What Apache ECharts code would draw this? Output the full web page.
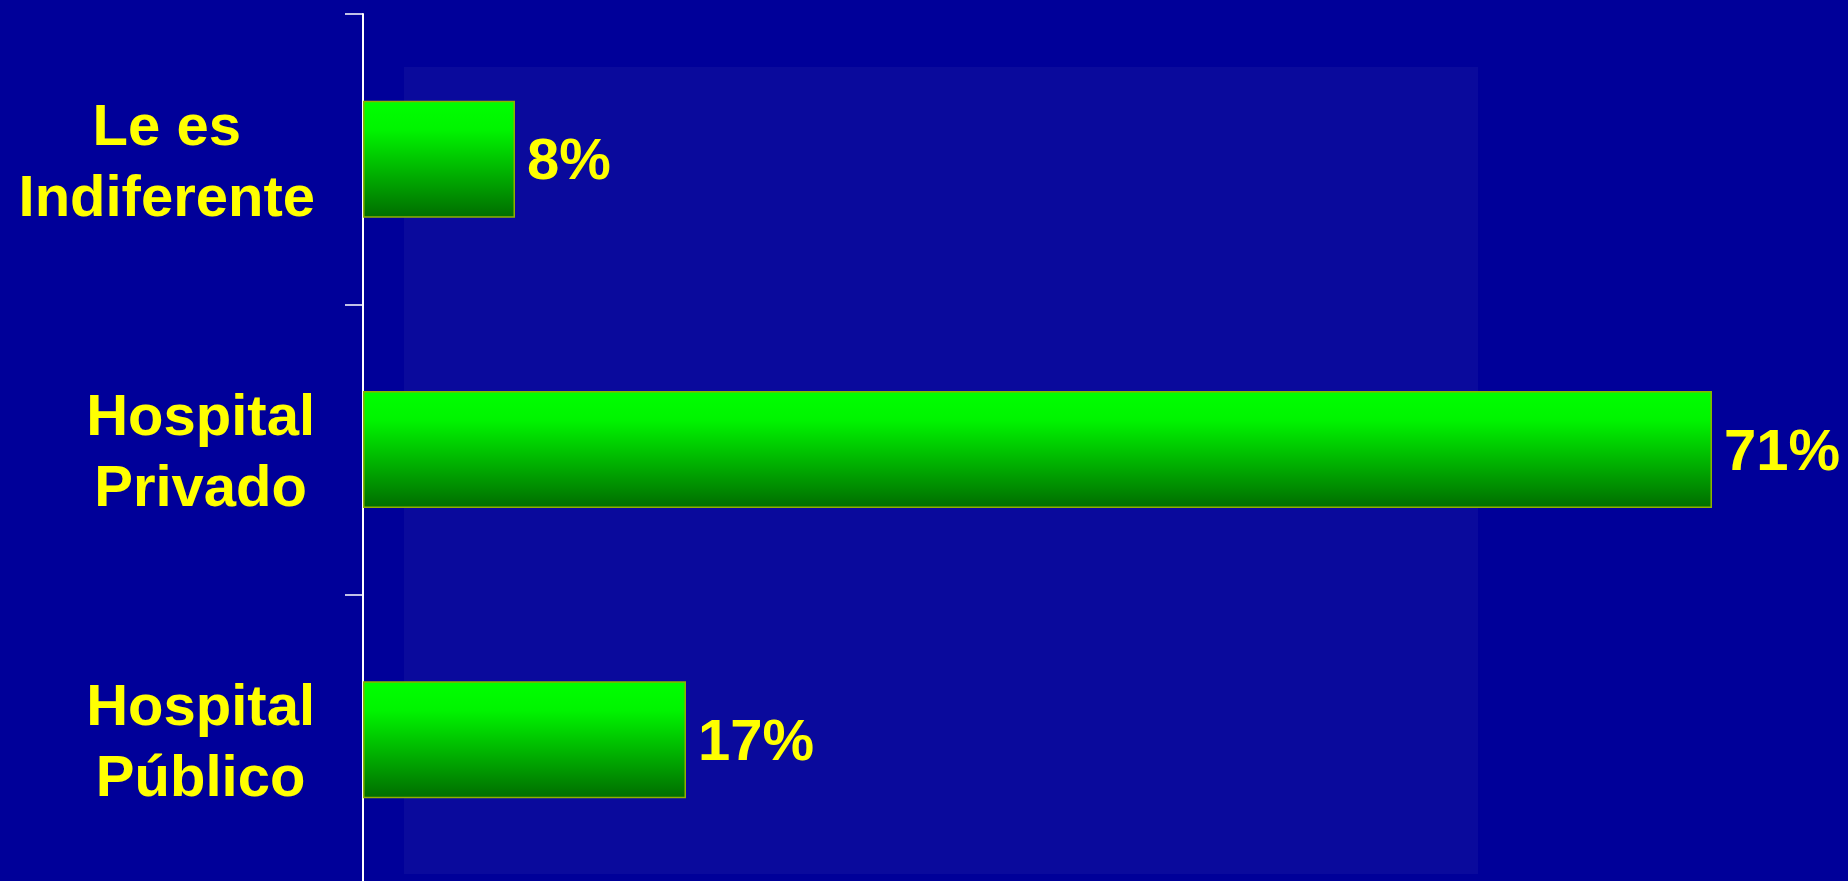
<!DOCTYPE html>
<html>
<head>
<meta charset="utf-8">
<script src="https://cdn.jsdelivr.net/npm/echarts@6/dist/echarts.min.js"></script>
<style>
html,body{margin:0;padding:0;background:#000099;}
#c{width:1848px;height:881px;}
</style>
</head>
<body>
<div id="c"></div>
<script>
const categories = ['Le es\nIndiferente', 'Hospital\nPrivado', 'Hospital\nPúblico'];
const values = [8, 71, 17];
const valueLabels = ['8%', '71%', '17%'];

const chart = echarts.init(document.getElementById('c'), null, {renderer: 'canvas'});
const FONT = '"Liberation Sans", Arial, Helvetica, sans-serif';

chart.setOption({
  backgroundColor: '#000099',
  animation: false,
  graphic: [{
    type: 'rect',
    silent: true,
    z: -10,
    shape: {x: 404, y: 67, width: 1074, height: 807},
    style: {fill: '#0a0a9c'}
  }],
  grid: {left: 363, width: 1482, top: 14, height: 871, containLabel: false, outerBoundsMode: 'none'},
  xAxis: {
    type: 'value',
    min: 0,
    max: 78,
    show: false
  },
  yAxis: {
    type: 'category',
    data: categories,
    inverse: true,
    axisLine: {show: true, lineStyle: {color: '#ffffff', width: 2}},
    axisTick: {show: true, length: 18, lineStyle: {color: '#ffffff', width: 1.5}},
    splitLine: {show: false},
    axisLabel: {
      margin: 48,
      align: 'right',
      padding: [10, 0, 0, 0],
      formatter: function (v) {
        return v.split('\n').map(function (s) { return '{a|' + s + '}'; }).join('\n');
      },
      rich: {
        a: {
          align: 'center',
          color: '#ffff00',
          fontFamily: FONT,
          fontWeight: 'bold',
          fontSize: 58,
          lineHeight: 71
        }
      }
    }
  },
  series: [{
    type: 'bar',
    data: values,
    barWidth: 117,
    itemStyle: {
      color: {
        type: 'linear', x: 0, y: 0, x2: 0, y2: 1,
        colorStops: [
          {offset: 0, color: '#00ff00'},
          {offset: 0.25, color: '#00f400'},
          {offset: 1, color: '#006c00'}
        ]
      },
      borderColor: '#8fb000',
      borderWidth: 1.5
    },
    label: {
      show: true,
      position: 'right',
      distance: 12,
      offset: [0, 4],
      color: '#ffff00',
      fontFamily: FONT,
      fontWeight: 'bold',
      fontSize: 58,
      formatter: function (p) { return valueLabels[p.dataIndex]; }
    }
  }]
});
</script>
</body>
</html>
